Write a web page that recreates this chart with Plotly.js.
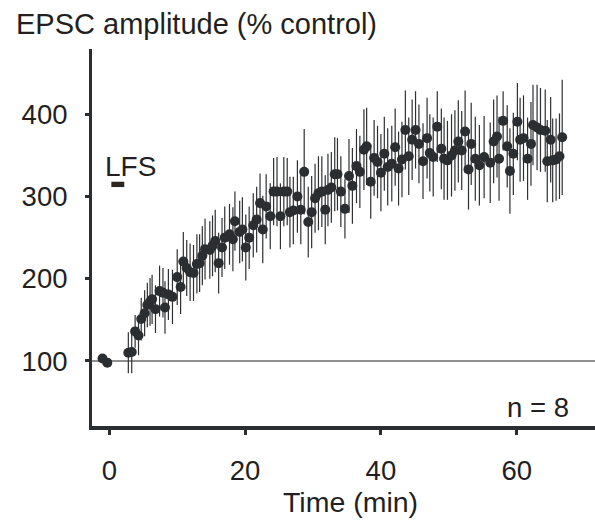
<!DOCTYPE html>
<html>
<head>
<meta charset="utf-8">
<script src="https://cdn.plot.ly/plotly-3.0.1.min.js"></script>
<style>html,body{margin:0;padding:0;background:#fff;}#chart{width:595px;height:520px;}</style>
</head>
<body>
<div id="chart"></div>
<script>
// Baseline (pre-LFS) samples
var baseTime = [-1.0, -0.3];
var baseAmp = [103, 98];
var baseErr = [0, 0];

// Post-LFS samples (minutes, % control, SEM)
var postTime = [2.8, 3.3, 3.8, 4.3, 4.7, 5.2, 5.6, 6.0, 6.3, 6.8,
  7.4, 7.9, 8.2, 8.7, 9.3, 10.0, 10.5, 10.9, 11.4, 11.9,
  12.4, 12.9, 13.3, 13.7, 14.1, 14.8, 15.2, 15.6, 16.1, 16.6,
  17.0, 17.7, 18.2, 18.5, 19.2, 19.6, 20.1, 20.6, 21.2, 21.7,
  22.2, 22.6, 23.1, 23.7, 24.2, 24.7, 25.2, 25.7, 26.2, 26.6,
  27.1, 27.7, 28.2, 28.7, 29.3, 29.8, 30.3, 30.8, 31.3, 31.8,
  32.2, 32.7, 33.2, 33.6, 34.1, 34.7, 35.3, 35.8, 36.4, 36.9,
  37.5, 37.9, 38.5, 39.0, 39.5, 40.0, 40.5, 41.0, 41.6, 42.1,
  42.6, 43.1, 43.6, 44.1, 44.6, 45.1, 45.6, 46.2, 46.8, 47.2,
  47.7, 48.3, 48.9, 49.3, 49.8, 50.4, 50.9, 51.4, 51.9, 52.4,
  52.9, 53.3, 53.9, 54.5, 55.2, 56.1, 56.6, 57.1, 57.4, 58.0,
  58.6, 59.0, 59.5, 60.1, 60.5, 61.0, 61.6, 62.1, 62.4, 63.0,
  63.5, 64.2, 64.5, 65.0, 65.3, 65.8, 66.3, 66.7];
var postAmp = [110, 111, 136, 131, 151, 158, 168, 172, 175, 163,
  185, 183, 165, 181, 178, 202, 190, 221, 213, 208,
  207, 218, 219, 228, 236, 235, 240, 246, 219, 238,
  250, 254, 248, 270, 257, 260, 238, 250, 265, 272,
  292, 260, 288, 276, 306, 306, 276, 306, 306, 281,
  283, 300, 284, 330, 269, 281, 298, 304, 306, 284,
  308, 311, 327, 327, 306, 285, 325, 313, 337, 330,
  357, 361, 318, 347, 342, 329, 352, 336, 340, 360,
  334, 345, 381, 349, 369, 381, 364, 343, 371, 353,
  348, 385, 358, 346, 344, 350, 356, 367, 356, 379,
  333, 364, 346, 338, 348, 341, 367, 373, 346, 392,
  361, 331, 352, 391, 369, 371, 346, 364, 387, 384,
  381, 380, 343, 369, 344, 345, 349, 372];
var postErr = [25, 26, 20, 24, 26, 28, 27, 29, 30, 29,
  31, 30, 32, 31, 33, 34, 33, 36, 34, 35,
  34, 36, 35, 36, 37, 35, 37, 38, 37, 36,
  38, 37, 39, 36, 38, 39, 40, 38, 39, 40,
  36, 41, 39, 40, 41, 42, 40, 42, 41, 43,
  41, 44, 42, 52, 43, 44, 42, 45, 43, 42,
  44, 43, 45, 44, 43, 36, 45, 46, 45, 44,
  49, 47, 45, 46, 44, 47, 45, 47, 46, 47,
  45, 46, 48, 47, 49, 47, 48, 46, 49, 47,
  48, 43, 49, 50, 48, 50, 49, 50, 48, 50,
  49, 50, 51, 49, 50, 49, 51, 50, 51, 36,
  50, 52, 50, 47, 51, 52, 50, 51, 49, 52,
  51, 50, 50, 52, 51, 50, 52, 70];

var xTicks = [0, 20, 40, 60];
var yTicks = [100, 200, 300, 400];
var lfsWindow = [0.3, 2.2];
var lfsLevel = [311.5, 318];
var controlLevel = 100;

var ink = '#2b2e31';
var txt = '#231f20';
var fontFam = 'Liberation Sans, Arial, Helvetica, sans-serif';

var traces = [
  {
    x: baseTime.concat(postTime),
    y: baseAmp.concat(postAmp),
    type: 'scatter',
    mode: 'markers',
    marker: {color: ink, size: 10, line: {width: 0}},
    error_y: {type: 'data', array: baseErr.concat(postErr), visible: true,
      color: '#2e3032', thickness: 1.2, width: 0},
    hoverinfo: 'x+y'
  }
];

var layout = {
  width: 595, height: 520,
  margin: {l: 92, r: 0, t: 49, b: 94, pad: 0},
  paper_bgcolor: '#ffffff', plot_bgcolor: '#ffffff',
  showlegend: false,
  font: {family: fontFam, color: txt, size: 27},
  xaxis: {
    range: [-2.55, 71.53], tickvals: xTicks, ticktext: xTicks.map(String),
    ticks: 'outside', ticklen: 5, tickwidth: 3, tickcolor: ink,
    showline: true, linewidth: 3.5, linecolor: ink,
    showgrid: false, zeroline: false,
    tickfont: {family: fontFam, size: 27.5, color: txt},
    ticklabelstandoff: 12
  },
  yaxis: {
    range: [20.95, 479.4], tickvals: yTicks, ticktext: yTicks.map(String),
    ticks: 'outside', ticklen: 4, tickwidth: 3, tickcolor: ink,
    showline: true, linewidth: 3, linecolor: ink,
    showgrid: false, zeroline: false,
    tickfont: {family: fontFam, size: 27.5, color: txt},
    ticklabelstandoff: 12
  },
  shapes: [
    {type: 'line', xref: 'paper', x0: 0, x1: 1, yref: 'y', y0: controlLevel, y1: controlLevel,
      line: {color: '#222222', width: 1.1}, layer: 'below'},
    {type: 'rect', xref: 'x', x0: lfsWindow[0], x1: lfsWindow[1], yref: 'y', y0: lfsLevel[0], y1: lfsLevel[1],
      fillcolor: '#2d2620', line: {width: 0}}
  ],
  annotations: [
    {text: 'EPSC amplitude (% control)', xref: 'paper', yref: 'paper', x: -0.155, y: 1.065,
      xanchor: 'left', yanchor: 'middle', showarrow: false, font: {family: fontFam, size: 29, color: txt}},
    {text: 'Time (min)', xref: 'paper', yref: 'paper', x: 0.513, y: -0.2008,
      xanchor: 'center', yanchor: 'middle', showarrow: false, font: {family: fontFam, size: 28.5, color: txt}},
    {text: 'LFS', xref: 'x', yref: 'y', x: 3.1, y: 336,
      xanchor: 'center', yanchor: 'middle', showarrow: false, font: {family: fontFam, size: 28, color: txt}},
    {text: 'n = 8', xref: 'x', yref: 'y', x: 63.1, y: 43.5,
      xanchor: 'center', yanchor: 'middle', showarrow: false, font: {family: fontFam, size: 27.5, color: txt}}
  ]
};

Plotly.newPlot('chart', traces, layout, {staticPlot: true, displayModeBar: false});
</script>
</body>
</html>
